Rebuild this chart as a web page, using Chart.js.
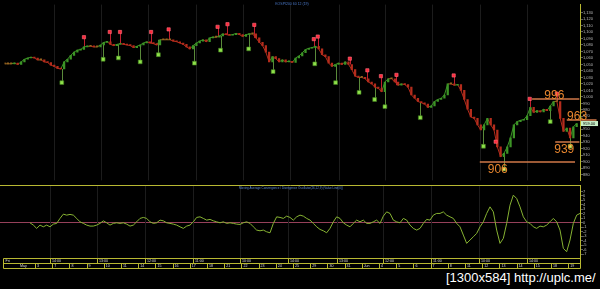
<!DOCTYPE html>
<html>
<head>
<meta charset="utf-8">
<script src="https://cdn.jsdelivr.net/npm/chart.js@4.4.0/dist/chart.umd.min.js"></script>
<style>
html, body { margin: 0; padding: 0; background: #000; width: 600px; height: 289px; overflow: hidden; }
#main { position: absolute; left: 0; top: 0; }
#macd { position: absolute; left: 0; top: 185px; }
#stamp { position: absolute; left: 446px; top: 271px; color: #fff; font: 13px/13px "Liberation Sans", Arial, sans-serif; white-space: nowrap; }
</style>
</head>
<body>
<canvas id="main" width="600" height="185"></canvas>
<canvas id="macd" width="600" height="85"></canvas>
<div id="stamp">[1300x584] http://uplc.me/</div>
<script>
// closes of each bar (x = bar number)
const closes = [
  1051, 1051, 1051, 1052, 1050, 1054, 1058, 1060, 1061, 1060,
  1057, 1057, 1054, 1053, 1049, 1047, 1044, 1043, 1054, 1058,
  1064, 1069, 1072, 1073, 1077, 1078, 1078, 1077, 1077, 1080,
  1084, 1085, 1081, 1079, 1081, 1082, 1081, 1080, 1079, 1076,
  1078, 1080, 1083, 1085, 1083, 1082, 1080, 1088, 1088, 1088,
  1088, 1086, 1085, 1083, 1081, 1077, 1074, 1079, 1083, 1086,
  1088, 1085, 1091, 1092, 1092, 1094, 1097, 1096, 1095, 1096,
  1098, 1096, 1093, 1096, 1097, 1097, 1091, 1084, 1079, 1069,
  1054, 1062, 1059, 1054, 1057, 1054, 1055, 1053, 1060, 1063,
  1068, 1073, 1075, 1076, 1078, 1074, 1065, 1062, 1052, 1047,
  1050, 1052, 1050, 1054, 1050, 1042, 1032, 1030, 1030, 1028,
  1023, 1020, 1015, 1013, 1008, 1023, 1028, 1028, 1023, 1018,
  1020, 1019, 1015, 1003, 998, 993, 991, 989, 984, 986,
  993, 996, 998, 1003, 1020, 1020, 1018, 1019, 1010, 996,
  981, 969, 967, 957, 949, 957, 967, 957, 949, 923,
  908, 913, 923, 937, 957, 962, 964, 965, 971, 984,
  976, 979, 977, 981, 979, 986, 993, 993, 967, 947,
  952, 937, 954, 959
];
const priceTicks = [1130, 1120, 1110, 1100, 1090, 1080, 1070, 1060, 1050, 1040, 1030, 1020, 1010, 1000,
  990, 980, 970, 960, 950, 940, 930, 920, 910, 900, 890, 880];

// sell signals (red) and buy signals (green)
const sellIdx = [24.0, 31.8, 34.9, 44.3, 49.6, 64.4, 67.4, 75.5, 93.5, 94.7, 104.4, 109.7, 113.8, 118.5, 135.8, 148.5, 158.8, 167];
const sellPrice = [1092, 1100, 1100, 1100, 1104, 1108, 1112, 1111, 1089, 1093, 1059, 1041, 1032, 1034, 1033, 931, 997, 1005];
const buyIdx = [17.3, 29.8, 34.4, 41.0, 46.5, 57.4, 65.3, 73.8, 81.2, 93.8, 100.1, 107.2, 111.9, 115.0, 125.7, 144.8, 151.0, 165.0, 171.0];
const buyPrice = [1022, 1058, 1060, 1054, 1065, 1052, 1072, 1074, 1039, 1051, 1022, 1007, 996, 985, 968, 924, 889, 962, 924];
const buyPale = [16, 18];

// hand drawn support / resistance levels
const levelValue = [997, 965, 931, 899];
const levelFrom = [159.5, 170, 166.5, 143.7];
const levelTo = [173.8, 179, 173.8, 172.5];
const levelText = ['996', '963', '939', '906'];
const levelTextIdx = [163.2, 170.1, 166.2, 146.1];
const levelTextBelow = [false, false, true, true];

// MACD oscillator
const macdStart = 9;
const macdValues = [
  0, -0.51, -1.24, -0.51, -0.89, -0.51, -0.89, -0.29, -0.13, 0.98,
  1.93, 1.71, 1.87, 1.71, 0.98, 0.22, -0.13, -0.51, -0.73, -0.73,
  -0.51, -0.13, 0.44, 0, -0.51, -0.13, 0, -0.13, 0, -0.29,
  -0.73, -0.51, 0.22, 0.98, 1.2, 0.98, 0.22, -0.13, 0, 0.6,
  0.44, 0, -0.13, -0.29, -0.51, -0.89, -1.24, -0.73, -0.51, 0.22,
  1.2, 1.33, 0.98, 0.6, 0.76, 0.44, 0.22, 0, 0.22, -0.13,
  0, -0.13, -0.29, -0.36, 0, 0.22, -0.13, -0.89, -1.62, -1.78,
  -1.62, -2, -2.22, -0.13, 1.33, 1.2, 0.98, 1.49, 1.2, 0.6,
  1.33, 1.71,
  1.49, 0.98, 0.6, -0.13, -0.89, -1.47, -1.78, -2.22, -1.24, 0.22,
  1.33, 0.98, 0, -0.51, -0.89, -0.13, 0.6, 0.22, 0.6, -0.13,
  -0.13, 0.22, 0.6, -0.13, 1.49, 2.44, 2.09, 0.6, 0.22, 0,
  0.98, 0.6, -0.51, -1.24, -1.62, -1.24, -0.13, 0.76, 0.6, 1.71,
  2.09, 2.09, 2.44, 1.71, 1.33, 0.98, -0.13, -0.89, -2.73, -4.58,
  -3.84, -3.11, -2.36, -0.89, 0.22, 2.09, 3.56, 2.44, -1.62, -4.58,
  -3.47, -0.13, 3.93, 6.16, 5.42, 3.56, 1.33, 0.22, -0.13, -0.89,
  -1.24, -0.73, -0.89, -0.51, 0.22, 0.98, 0.22, -1.62, -5.69, -6.44,
  -3.84, -0.13, 1.71, 2.09
];
const macdTicks = [7, 6, 5, 4, 3, 2, 1, 0, -1, -2, -3, -4, -5, -6, -7];

// time axis
const gridTicks = [15, 29.1, 43.5, 57.9, 72, 86.4, 101.1, 114.9, 129.3, 143.7, 158.1];
const timeLabels = ['Fri', '14:00', '13:00', '12:00', '11:00', '10:00', '14:00', '13:00', '12:00', '11:00', '10:00', '14:00'];
const dayLabels = ['May', '3', '7', '8', '9', '10', '11', '14', '15', '16', '17', '18', '21', '22', '23', '24', '25',
  '29', '30', '31', 'Jun', '4', '5', '6', '7', '8', '11', '12', '13', '14', '15', '18', '19'];

const X_MIN = 0, X_MAX = 174;
const YELLOW = '#b8b832';
const UP = '#3c9426', DOWN = '#b42c1c', FLAT = '#966420';
const tiny = { family: 'Liberation Sans', size: 4, lineHeight: 0.1 };

function barColor(i) {
  if (i === 0 || closes[i] === closes[i - 1]) return FLAT;
  return closes[i] > closes[i - 1] ? UP : DOWN;
}

const vGrid = {
  id: 'vGrid',
  beforeDatasetsDraw(chart) {
    const { ctx, chartArea: a, scales: { x } } = chart;
    ctx.save();
    ctx.strokeStyle = '#1c1c1c';
    ctx.lineWidth = 1;
    gridTicks.forEach(v => {
      const px = Math.round(x.getPixelForValue(v)) + 0.5;
      ctx.beginPath(); ctx.moveTo(px, a.top); ctx.lineTo(px, a.bottom); ctx.stroke();
    });
    ctx.restore();
  }
};

const stems = {
  id: 'stems',
  beforeDatasetsDraw(chart) {
    const { ctx, scales: { x, y } } = chart;
    ctx.save();
    ctx.lineWidth = 1;
    ctx.strokeStyle = '#c02030';
    sellIdx.forEach((v, k) => {
      const px = Math.round(x.getPixelForValue(v)) + 0.5;
      ctx.beginPath();
      ctx.moveTo(px, y.getPixelForValue(sellPrice[k]));
      ctx.lineTo(px, y.getPixelForValue(closes[Math.round(v)]));
      ctx.stroke();
    });
    ctx.strokeStyle = '#5a8a3a';
    buyIdx.forEach((v, k) => {
      const px = Math.round(x.getPixelForValue(v)) + 0.5;
      ctx.beginPath();
      ctx.moveTo(px, y.getPixelForValue(buyPrice[k]));
      ctx.lineTo(px, y.getPixelForValue(closes[Math.round(v)]));
      ctx.stroke();
    });
    ctx.restore();
  }
};

const notes = {
  id: 'notes',
  afterDraw(chart) {
    const { ctx, chartArea: a, scales: { x, y } } = chart;
    ctx.save();
    // level lines
    ctx.strokeStyle = '#d07848';
    ctx.lineWidth = 1.5;
    levelValue.forEach((v, k) => {
      const py = Math.round(y.getPixelForValue(v));
      ctx.beginPath();
      ctx.moveTo(x.getPixelForValue(levelFrom[k]), py);
      ctx.lineTo(x.getPixelForValue(levelTo[k]), py);
      ctx.stroke();
    });
    // last price box on the axis
    const last = closes[closes.length - 1];
    const lp = y.getPixelForValue(last);
    ctx.fillStyle = '#c8f0c8';
    ctx.fillRect(a.right + 1, lp - 2.5, 17, 5);
    ctx.fillStyle = '#000';
    ctx.font = '4px "Liberation Sans", Arial, sans-serif';
    ctx.textBaseline = 'middle';
    ctx.fillText(last.toFixed(2), a.right + 3, lp);
    // level labels
    ctx.font = '12px "Liberation Sans", Arial, sans-serif';
    ctx.fillStyle = '#e8862e';
    ctx.textBaseline = 'alphabetic';
    levelText.forEach((t, k) => {
      const py = y.getPixelForValue(levelValue[k]);
      ctx.fillText(t, x.getPixelForValue(levelTextIdx[k]), levelTextBelow[k] ? py + 11 : py);
    });
    // title
    ctx.fillStyle = '#4a78c8';
    ctx.font = '3.5px "Liberation Sans", Arial, sans-serif';
    ctx.textAlign = 'center';
    ctx.fillText('KOSPI200 60 12 (19)', 292, 4.5);
    ctx.restore();
  }
};

new Chart(document.getElementById('main'), {
  type: 'bar',
  data: {
    datasets: [
      {
        type: 'line',
        data: closes.map((c, i) => ({ x: i, y: c })),
        borderWidth: 1,
        pointRadius: 0,
        segment: { borderColor: s => barColor(s.p1DataIndex) },
        order: 4
      },
      {
        data: closes.map((c, i) => ({ x: i, y: [i ? closes[i - 1] : c, c] })),
        backgroundColor: closes.map((c, i) => barColor(i)),
        barThickness: 1.6,
        minBarLength: 1,
        order: 3
      },
      {
        type: 'line',
        showLine: false,
        data: sellIdx.map((v, k) => ({ x: v, y: sellPrice[k] })),
        pointStyle: 'rect',
        pointRadius: 2.3,
        backgroundColor: '#ff2a3c',
        borderColor: '#ff7080',
        borderWidth: 0.6,
        order: 1
      },
      {
        type: 'line',
        showLine: false,
        data: buyIdx.map((v, k) => ({ x: v, y: buyPrice[k] })),
        pointStyle: 'rect',
        pointRadius: 2.7,
        backgroundColor: buyIdx.map((v, k) => buyPale.includes(k) ? '#d8e060' : '#8ee04a'),
        borderColor: '#3e7a1c',
        borderWidth: 0.6,
        order: 1
      }
    ]
  },
  options: {
    responsive: false,
    animation: false,
    layout: { padding: 0 },
    plugins: { legend: { display: false }, tooltip: { enabled: false } },
    scales: {
      x: { type: 'linear', display: false, min: X_MIN, max: X_MAX, offset: false },
      y: {
        position: 'right',
        min: 871.4,
        max: 1142.2,
        afterFit(s) { s.width = 20; },
        afterBuildTicks(s) { s.ticks = priceTicks.map(v => ({ value: v })); },
        ticks: { color: '#b8b8b8', font: tiny, padding: 0, callback: v => v.toLocaleString('en-US') },
        grid: { drawOnChartArea: false, drawTicks: true, tickLength: 3, color: '#606060' },
        border: { color: YELLOW, width: 1 }
      }
    }
  },
  plugins: [vGrid, stems, notes]
});

const strip = {
  id: 'strip',
  afterDraw(chart) {
    const { ctx, chartArea: a, scales: { x } } = chart;
    const y0 = Math.round(a.bottom) + 0.5, y1 = y0 + 5, y2 = y1 + 5;
    const left = 3.5, right = Math.round(a.right) + 0.5;
    ctx.save();
    ctx.strokeStyle = YELLOW;
    ctx.lineWidth = 1;
    // panel top separator
    ctx.beginPath(); ctx.moveTo(0, 0.5); ctx.lineTo(right, 0.5); ctx.stroke();
    // strip frame
    ctx.beginPath();
    [y0, y1, y2].forEach(yy => { ctx.moveTo(left, yy); ctx.lineTo(right, yy); });
    ctx.moveTo(left, y0); ctx.lineTo(left, y2);
    ctx.moveTo(right, y0); ctx.lineTo(right, y2);
    gridTicks.forEach(v => {
      const px = Math.round(x.getPixelForValue(v)) + 0.5;
      ctx.moveTo(px, y0); ctx.lineTo(px, y1);
    });
    const dayStart = x.getPixelForValue(10.5), dayStep = x.getPixelForValue(5.16) - x.getPixelForValue(0);
    for (let k = 0; k < dayLabels.length - 1; k++) {
      const px = Math.round(dayStart + k * dayStep) + 0.5;
      if (px < right) { ctx.moveTo(px, y1); ctx.lineTo(px, y2); }
    }
    ctx.stroke();
    ctx.fillStyle = '#d8d8d8';
    ctx.font = '3.6px "Liberation Sans", Arial, sans-serif';
    ctx.textBaseline = 'middle';
    ctx.fillText(timeLabels[0], left + 2, y0 + 2.5);
    gridTicks.forEach((v, k) => ctx.fillText(timeLabels[k + 1], x.getPixelForValue(v) + 2, y0 + 2.5));
    ctx.fillText(dayLabels[0], 20, y1 + 2.5);
    for (let k = 1; k < dayLabels.length; k++) {
      const px = dayStart + (k - 1) * dayStep + 2;
      if (px < right - 4) ctx.fillText(dayLabels[k], px, y1 + 2.5);
    }
    // title
    ctx.fillStyle = '#5a8ad0';
    ctx.font = '3px "Liberation Sans", Arial, sans-serif';
    ctx.textAlign = 'center';
    ctx.fillText('Moving Average Convergence / Divergence Oscillator(26,12,9) (Value Line(0))', 291, 3.2);
    ctx.restore();
  }
};

new Chart(document.getElementById('macd'), {
  type: 'line',
  data: {
    datasets: [{
      data: macdValues.map((v, k) => ({ x: macdStart + k, y: v })),
      borderColor: '#86b232',
      borderWidth: 1,
      pointRadius: 0,
      tension: 0
    }]
  },
  options: {
    responsive: false,
    animation: false,
    layout: { padding: { bottom: 12 } },
    plugins: { legend: { display: false }, tooltip: { enabled: false } },
    scales: {
      x: { type: 'linear', display: false, min: X_MIN, max: X_MAX },
      y: {
        position: 'right',
        min: -7.84,
        max: 8.38,
        afterFit(s) { s.width = 20; },
        afterBuildTicks(s) { s.ticks = macdTicks.map(v => ({ value: v })); },
        ticks: { color: '#b8b8b8', font: tiny, padding: 0 },
        grid: {
          drawOnChartArea: true,
          drawTicks: true,
          tickLength: 3,
          color: c => c.tick && c.tick.value === 0 ? '#96405a' : 'rgba(0,0,0,0)',
          tickColor: '#606060'
        },
        border: { color: YELLOW, width: 1 }
      }
    }
  },
  plugins: [vGrid, strip]
});
</script>
</body>
</html>
